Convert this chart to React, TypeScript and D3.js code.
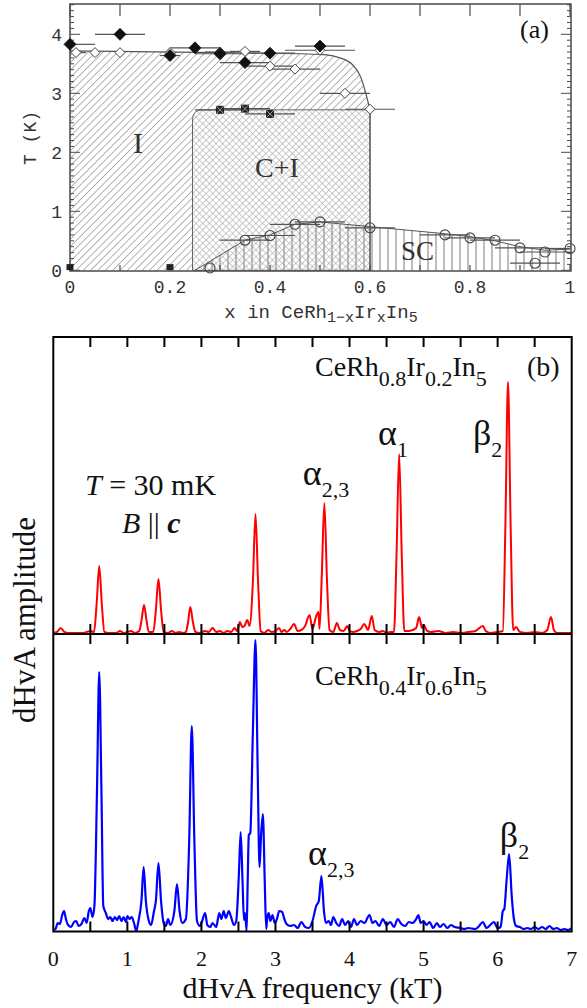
import React from 'react';
import * as d3 from 'd3';

// ---------- panel (a): phase diagram, [x, T (K), x error] ----------
const tnFilled = [
  [0, 3.83, 0.05], [0.1, 4.0, 0.05], [0.2, 3.64, 0.02], [0.25, 3.77, 0.05],
  [0.3, 3.67, 0.05], [0.35, 3.52, 0.05], [0.4, 3.68, 0.05], [0.5, 3.8, 0.05]
];
const tnOpen = [
  [0.012, 3.69, 0.02], [0.05, 3.69, 0], [0.1, 3.69, 0], [0.2, 3.69, 0], [0.3, 3.7, 0.03],
  [0.35, 3.71, 0.03], [0.4, 3.46, 0.05], [0.45, 3.41, 0.05], [0.5, 3.73, 0.07],
  [0.55, 3.0, 0.05], [0.6, 2.73, 0.05]
];
const tciSquares = [[0.3, 2.72, 0.05], [0.35, 2.74, 0.05], [0.4, 2.65, 0.05]];
const zeroSquares = [[0, 0.02], [0.2, 0.02]];
const tcCircles = [
  [0.28, 0.04, 0], [0.35, 0.51, 0.05], [0.4, 0.59, 0.05], [0.45, 0.78, 0.05], [0.5, 0.82, 0.05],
  [0.6, 0.72, 0.05], [0.75, 0.6, 0.05], [0.8, 0.55, 0.05], [0.85, 0.51, 0.05], [0.9, 0.38, 0.05],
  [0.93, 0.12, 0.05], [0.95, 0.31, 0.05], [1.0, 0.37, 0.05]
];
const phaseIBoundary = [[0, 3.72], [0.3, 3.69], [0.5, 3.66], [0.55, 3.57], [0.58, 3.3], [0.6, 2.72]];
const scBoundary = [
  [0.25, 0], [0.35, 0.51], [0.4, 0.6], [0.45, 0.78], [0.5, 0.82], [0.6, 0.74], [0.75, 0.62],
  [0.8, 0.57], [0.85, 0.5], [0.9, 0.4], [0.95, 0.34], [1.0, 0.36]
];
const ciRegion = [0.245, 0.6, 2.72]; // x from, x to, T top
const xTicksA = [0, 0.2, 0.4, 0.6, 0.8, 1];
const tTicksA = [0, 1, 2, 3, 4];

// ---------- panel (b): dHvA spectra, [frequency kT, amplitude a.u.] ----------
const freqTicks = [0, 1, 2, 3, 4, 5, 6, 7];
const spectrumX02 = [
  [0.0, 1], [0.05, 2], [0.1, 6], [0.15, 2], [0.2, 1], [0.3, 1], [0.4, 1], [0.45, 2], [0.5, 3], [0.55, 2],
  [0.585, 30], [0.62, 68], [0.655, 30], [0.69, 2], [0.75, 1], [0.85, 1], [0.9, 3], [0.95, 1], [1.0, 2],
  [1.05, 3], [1.1, 1], [1.16, 3], [1.19, 13], [1.225, 29], [1.26, 13], [1.29, 2], [1.35, 2], [1.385, 24],
  [1.42, 55], [1.455, 24], [1.49, 2], [1.55, 1], [1.6, 3], [1.65, 1], [1.7, 2], [1.75, 1], [1.79, 2],
  [1.82, 12], [1.85, 27], [1.885, 12], [1.92, 2], [1.97, 1], [2.05, 3], [2.1, 2], [2.15, 6], [2.2, 2],
  [2.25, 3], [2.3, 1], [2.35, 3], [2.4, 2], [2.45, 6], [2.48, 3], [2.52, 12], [2.55, 7], [2.58, 8],
  [2.62, 14], [2.65, 8], [2.695, 52], [2.73, 120], [2.765, 52], [2.8, 3], [2.85, 1], [2.9, 4], [2.95, 2],
  [3.0, 3], [3.05, 6], [3.08, 2], [3.12, 4], [3.15, 2], [3.2, 5], [3.25, 10], [3.3, 3], [3.35, 4],
  [3.4, 8], [3.46, 19], [3.5, 5], [3.55, 18], [3.58, 22], [3.595, 5], [3.625, 58], [3.66, 131],
  [3.695, 55], [3.73, 4], [3.78, 2], [3.83, 11], [3.87, 4], [3.92, 3], [3.97, 8], [4.0, 3], [4.05, 2],
  [4.1, 3], [4.15, 5], [4.2, 10], [4.25, 4], [4.3, 18], [4.34, 4], [4.4, 2], [4.45, 3], [4.5, 1],
  [4.55, 2], [4.6, 2], [4.635, 80], [4.67, 180], [4.705, 80], [4.74, 3], [4.8, 3], [4.85, 4], [4.9, 6],
  [4.94, 17], [4.98, 6], [5.0, 9], [5.05, 3], [5.1, 2], [5.2, 3], [5.3, 1], [5.4, 2], [5.5, 1], [5.6, 2],
  [5.7, 3], [5.8, 8], [5.84, 3], [5.9, 1], [6.0, 2], [6.07, 3], [6.105, 110], [6.14, 252], [6.175, 110],
  [6.21, 4], [6.25, 7], [6.3, 2], [6.4, 1], [6.5, 2], [6.6, 1], [6.67, 4], [6.72, 17], [6.76, 4],
  [6.8, 1], [6.9, 1], [7.0, 1]
];
const spectrumX06 = [
  [0.0, 1], [0.03, 2], [0.06, 8], [0.09, 7], [0.12, 16], [0.145, 20], [0.17, 12], [0.2, 6], [0.24, 4],
  [0.28, 9], [0.31, 10], [0.34, 5], [0.38, 7], [0.42, 13], [0.45, 8], [0.48, 20], [0.5, 23], [0.53, 14],
  [0.555, 25], [0.59, 140], [0.62, 259], [0.65, 140], [0.675, 25], [0.71, 18], [0.74, 12], [0.77, 14],
  [0.8, 10], [0.83, 14], [0.86, 11], [0.89, 15], [0.92, 10], [0.95, 14], [0.98, 9], [1.0, 15], [1.03, 12],
  [1.06, 14], [1.09, 8], [1.12, 0], [1.15, 10], [1.19, 30], [1.22, 64], [1.25, 30], [1.29, 10],
  [1.32, 6], [1.36, 20], [1.385, 30], [1.42, 68], [1.455, 30], [1.49, 8], [1.52, 5], [1.55, 12],
  [1.58, 6], [1.635, 20], [1.67, 47], [1.705, 20], [1.74, 8], [1.79, 12], [1.835, 90], [1.87, 205],
  [1.905, 90], [1.94, 10], [1.98, 5], [2.01, 10], [2.05, 18], [2.08, 6], [2.12, 4], [2.15, 8], [2.2, 4],
  [2.24, 18], [2.27, 12], [2.3, 20], [2.33, 13], [2.37, 20], [2.4, 14], [2.44, 6], [2.47, 10],
  [2.505, 55], [2.53, 99], [2.555, 50], [2.575, 11], [2.59, 18], [2.61, 0], [2.625, 50], [2.64, 96],
  [2.66, 98], [2.695, 200], [2.73, 291], [2.76, 160], [2.785, 64], [2.805, 95], [2.83, 117],
  [2.855, 50], [2.875, 2], [2.89, 14], [2.91, 18], [2.93, 10], [2.96, 16], [2.99, 8], [3.02, 12],
  [3.05, 20], [3.09, 19], [3.12, 12], [3.15, 7], [3.2, 5], [3.25, 6], [3.3, 3], [3.35, 9], [3.4, 4],
  [3.45, 3], [3.5, 10], [3.55, 25], [3.585, 30], [3.62, 55], [3.655, 20], [3.68, 8], [3.72, 10],
  [3.75, 6], [3.78, 14], [3.82, 8], [3.86, 5], [3.9, 12], [3.94, 6], [3.98, 10], [4.02, 4], [4.06, 12],
  [4.1, 6], [4.15, 10], [4.2, 8], [4.27, 16], [4.31, 8], [4.35, 10], [4.4, 5], [4.45, 12], [4.5, 6],
  [4.55, 9], [4.6, 4], [4.65, 12], [4.7, 7], [4.75, 5], [4.8, 9], [4.85, 8], [4.9, 12], [4.93, 16],
  [4.96, 8], [5.0, 10], [5.04, 6], [5.08, 9], [5.13, 3], [5.18, 8], [5.22, 4], [5.27, 7], [5.32, 3],
  [5.37, 6], [5.42, 4], [5.5, 3], [5.55, 2], [5.6, 3], [5.7, 2], [5.75, 5], [5.8, 9], [5.85, 3],
  [5.9, 6], [5.95, 9], [6.0, 3], [6.04, 4], [6.07, 20], [6.09, 22], [6.12, 50], [6.155, 77], [6.19, 35],
  [6.22, 12], [6.25, 5], [6.3, 4], [6.35, 2], [6.4, 3], [6.45, 2], [6.5, 4], [6.55, 2], [6.6, 4],
  [6.65, 2], [6.7, 5], [6.75, 2], [6.8, 3], [6.85, 1], [6.9, 2], [6.95, 1], [7.0, 3]
];
// peak labels: [freq, amplitude] of the label's lower-left corner
const labelsX02 = [
  { f: 3.37, a: 149, main: 'α', sub: '2,3' },
  { f: 4.385, a: 189, main: 'α', sub: '1' },
  { f: 5.667, a: 189, main: 'β', sub: '2' }
];
const labelsX06 = [
  { f: 3.44, a: 66, main: 'α', sub: '2,3' },
  { f: 6.03, a: 84, main: 'β', sub: '2' }
];

const SERIF = '"Liberation Serif", "Times New Roman", serif';
const MONO = '"Liberation Mono", "Courier New", monospace';
const GREY = '#4a4a4a';

function PhaseDiagram() {
  const x = d3.scaleLinear().domain([0, 1]).range([70, 570]);
  const y = d3.scaleLinear().domain([0, 4.5]).range([270.3, 4.8]);
  const left = 70, right = 571, top = 4, bottom = 271;

  const areaI = d3.area<number[]>().x(d => x(d[0])).y0(y(0)).y1(d => y(d[1])).curve(d3.curveMonotoneX);
  const lineI = d3.line<number[]>().x(d => x(d[0])).y(d => y(d[1])).curve(d3.curveMonotoneX);
  const areaSC = d3.area<number[]>().x(d => x(d[0])).y0(y(0)).y1(d => y(d[1]));
  const lineSC = d3.line<number[]>().x(d => x(d[0])).y(d => y(d[1]));

  const [cx0, cx1, ct] = ciRegion;
  const r = 10;
  const ciPath = `M${x(cx0)},${y(0)}V${y(ct) + r}Q${x(cx0)},${y(ct)} ${x(cx0) + r},${y(ct)}H${x(cx1)}V${y(0)}Z`;

  const tMinor = d3.range(0, 4.51, 0.1);
  const xMinor = d3.range(0, 1.001, 0.1);

  const diamond = (cx: number, cy: number, s: number) =>
    `M${cx},${cy - s}L${cx + s},${cy}L${cx},${cy + s}L${cx - s},${cy}Z`;

  const errBar = (d: number[], i: number, k: string) =>
    d[2] > 0 ? (
      <line key={k + i} x1={x(Math.max(0, d[0] - d[2]))} x2={x(Math.min(1, d[0] + d[2]))}
        y1={y(d[1])} y2={y(d[1])} stroke="#555" strokeWidth={1.2} />
    ) : null;

  return (
    <g>
      <defs>
        <pattern id="hatchI" width={5.2} height={5.2} patternUnits="userSpaceOnUse" patternTransform="rotate(45)">
          <line x1={0} y1={0} x2={0} y2={5.2} stroke="#777" strokeWidth={1.1} />
        </pattern>
        <pattern id="hatchCI" width={4.7} height={4.7} patternUnits="userSpaceOnUse" patternTransform="rotate(45)">
          <path d="M0,0V4.7M0,0H4.7" stroke="#999" strokeWidth={1} fill="none" />
        </pattern>
        <pattern id="hatchSC" width={8} height={8} patternUnits="userSpaceOnUse">
          <line x1={4} y1={0} x2={4} y2={8} stroke="#999" strokeWidth={1.3} />
        </pattern>
      </defs>

      {/* phase regions */}
      <path d={areaI(phaseIBoundary) ?? ''} fill="url(#hatchI)" />
      <path d={ciPath} fill="white" />
      <path d={ciPath} fill="url(#hatchCI)" stroke="#666" strokeWidth={1} />
      <path d={areaSC(scBoundary) ?? ''} fill="url(#hatchSC)" />
      <path d={lineI(phaseIBoundary) ?? ''} fill="none" stroke="#555" strokeWidth={1.2} />
      <line x1={x(cx1)} x2={x(cx1)} y1={y(ct)} y2={y(0)} stroke="#555" strokeWidth={1.2} />
      <path d={lineSC(scBoundary) ?? ''} fill="none" stroke="#555" strokeWidth={1} />

      {/* frame and ticks */}
      <rect x={left} y={top} width={right - left} height={bottom - top} fill="none" stroke={GREY} strokeWidth={1.5} />
      {tMinor.map((t, i) => {
        const major = Math.abs(t - Math.round(t)) < 1e-6;
        const len = major ? 10 : 4;
        return (
          <g key={'tm' + i} stroke={GREY} strokeWidth={1}>
            <line x1={left} x2={left + len} y1={y(t)} y2={y(t)} />
            <line x1={right} x2={right - len} y1={y(t)} y2={y(t)} />
          </g>
        );
      })}
      {xMinor.map((v, i) => (
        <g key={'xm' + i} stroke={GREY} strokeWidth={1.2}>
          <line x1={x(v)} x2={x(v)} y1={top} y2={top + 12} />
          <line x1={x(v)} x2={x(v)} y1={bottom} y2={bottom - 6} />
        </g>
      ))}
      {tTicksA.map(t => (
        <text key={'tl' + t} x={62} y={y(t) + 7} textAnchor="end" fontFamily={MONO} fontSize={18} fill="#333">{t}</text>
      ))}
      {xTicksA.map(v => (
        <text key={'xl' + v} x={x(v)} y={293} textAnchor="middle" fontFamily={MONO} fontSize={18} fill="#333">{v}</text>
      ))}
      <text transform="translate(36,138) rotate(-90)" textAnchor="middle" fontFamily={MONO} fontSize={18} fill="#333">T (K)</text>
      <text x={321} y={318} textAnchor="middle" fontFamily={MONO} fontSize={19} fill="#333">
        x in CeRh<tspan fontSize={15} dy={4}>1−x</tspan><tspan dy={-4}>Ir</tspan>
        <tspan fontSize={15} dy={4}>x</tspan><tspan dy={-4}>In</tspan><tspan fontSize={15} dy={4}>5</tspan>
      </text>

      {/* region labels */}
      <text x={133} y={153} fontFamily={SERIF} fontSize={30} fill="#333">I</text>
      <text x={255} y={177} fontFamily={SERIF} fontSize={28} fill="#333">C+I</text>
      <text x={401} y={260} fontFamily={SERIF} fontSize={27} fill="#333">SC</text>
      <text x={520} y={38} fontFamily={SERIF} fontSize={26} fill="#111">(a)</text>

      {/* error bars */}
      {tnOpen.map((d, i) => errBar(d, i, 'eo'))}
      {tnFilled.map((d, i) => errBar(d, i, 'ef'))}
      {tciSquares.map((d, i) => errBar(d, i, 'es'))}
      {tcCircles.map((d, i) => errBar(d, i, 'ec'))}

      {/* markers */}
      {tnOpen.map((d, i) => (
        <path key={'do' + i} d={diamond(x(d[0]), y(d[1]), 5)} fill="white" stroke="#444" strokeWidth={1} />
      ))}
      {tnFilled.map((d, i) => (
        <path key={'df' + i} d={diamond(x(d[0]), y(d[1]), 6)} fill="#111" stroke="#111" strokeWidth={0.8} />
      ))}
      {tciSquares.map((d, i) => (
        <g key={'sq' + i}>
          <rect x={x(d[0]) - 4} y={y(d[1]) - 4} width={8} height={8} fill="#222" />
          <path d={`M${x(d[0]) - 4},${y(d[1]) - 4}l8,8M${x(d[0]) + 4},${y(d[1]) - 4}l-8,8`} stroke="#999" strokeWidth={1} />
        </g>
      ))}
      {zeroSquares.map((d, i) => (
        <rect key={'zs' + i} x={x(d[0]) - 3.5} y={y(d[1]) - 5} width={7} height={6} fill="#222" />
      ))}
      {tcCircles.map((d, i) => (
        <circle key={'c' + i} cx={x(d[0])} cy={y(d[1])} r={5} fill="none" stroke="#444" strokeWidth={1.1} />
      ))}
    </g>
  );
}

function Spectra() {
  const x = d3.scaleLinear().domain([0, 7]).range([53.3, 571.7]);
  const yUp = d3.scaleLinear().domain([0, 297]).range([634, 337]);
  const yLo = d3.scaleLinear().domain([0, 297]).range([931, 634]);
  const top = 337, mid = 634, bottom = 931.5;

  const lineUp = d3.line<number[]>().x(d => x(d[0])).y(d => yUp(d[1])).curve(d3.curveMonotoneX);
  const lineLo = d3.line<number[]>().x(d => x(d[0])).y(d => yLo(d[1])).curve(d3.curveMonotoneX);
  const halfTicks = d3.range(0.5, 7, 0.5);

  const peakLabel = (l: { f: number; a: number; main: string; sub: string }, ys: d3.ScaleLinear<number, number>, k: string) => (
    <text key={k} x={x(l.f)} y={ys(l.a)} fontFamily={SERIF} fontSize={36} fill="#111">
      {l.main}<tspan fontSize={22} dy={12}>{l.sub}</tspan>
    </text>
  );

  return (
    <g>
      <path d={lineUp(spectrumX02) ?? ''} fill="none" stroke="#ff0000" strokeWidth={2} strokeLinejoin="round" />
      <path d={lineLo(spectrumX06) ?? ''} fill="none" stroke="#0000ff" strokeWidth={2.2} strokeLinejoin="round" />

      <rect x={x(0)} y={top} width={x(7) - x(0)} height={bottom - top} fill="none" stroke="#000" strokeWidth={2} />
      <line x1={x(0)} x2={x(7)} y1={mid} y2={mid} stroke="#000" strokeWidth={2} />
      {halfTicks.map((v, i) => (
        <g key={'bt' + i} stroke="#000" strokeWidth={2}>
          <line x1={x(v)} x2={x(v)} y1={top} y2={top + 10} />
          <line x1={x(v)} x2={x(v)} y1={mid - 10} y2={mid + 10} />
          <line x1={x(v)} x2={x(v)} y1={bottom} y2={bottom - 10} />
        </g>
      ))}
      {freqTicks.map(v => (
        <text key={'fl' + v} x={x(v)} y={966} textAnchor="middle" fontFamily={SERIF} fontSize={22} fill="#111">{v}</text>
      ))}
      <text x={(x(0) + x(7)) / 2} y={998} textAnchor="middle" fontFamily={SERIF} fontSize={30} fill="#111">dHvA frequency (kT)</text>
      <text transform={`translate(35,${620}) rotate(-90)`} textAnchor="middle" fontFamily={SERIF} fontSize={31} fill="#111">dHvA amplitude</text>

      <text x={315} y={376} fontFamily={SERIF} fontSize={28} fill="#111">
        CeRh<tspan fontSize={22} dy={10}>0.8</tspan><tspan dy={-10}>Ir</tspan>
        <tspan fontSize={22} dy={10}>0.2</tspan><tspan dy={-10}>In</tspan><tspan fontSize={22} dy={10}>5</tspan>
      </text>
      <text x={527} y={376} fontFamily={SERIF} fontSize={28} fill="#111">(b)</text>
      <text x={315} y={685} fontFamily={SERIF} fontSize={28} fill="#111">
        CeRh<tspan fontSize={22} dy={10}>0.4</tspan><tspan dy={-10}>Ir</tspan>
        <tspan fontSize={22} dy={10}>0.6</tspan><tspan dy={-10}>In</tspan><tspan fontSize={22} dy={10}>5</tspan>
      </text>

      <text x={85} y={495} fontFamily={SERIF} fontSize={30} fill="#111">
        <tspan fontStyle="italic">T</tspan> = 30 mK
      </text>
      <text x={122} y={533} fontFamily={SERIF} fontSize={30} fill="#111">
        <tspan fontStyle="italic">B</tspan> || <tspan fontStyle="italic" fontWeight="bold">c</tspan>
      </text>

      {labelsX02.map((l, i) => peakLabel(l, yUp, 'lu' + i))}
      {labelsX06.map((l, i) => peakLabel(l, yLo, 'll' + i))}
    </g>
  );
}

export default function App() {
  return (
    <svg width={587} height={1008} viewBox="0 0 587 1008"
      style={{ position: 'absolute', left: 0, top: 0, background: 'white' }}>
      <PhaseDiagram />
      <Spectra />
    </svg>
  );
}
